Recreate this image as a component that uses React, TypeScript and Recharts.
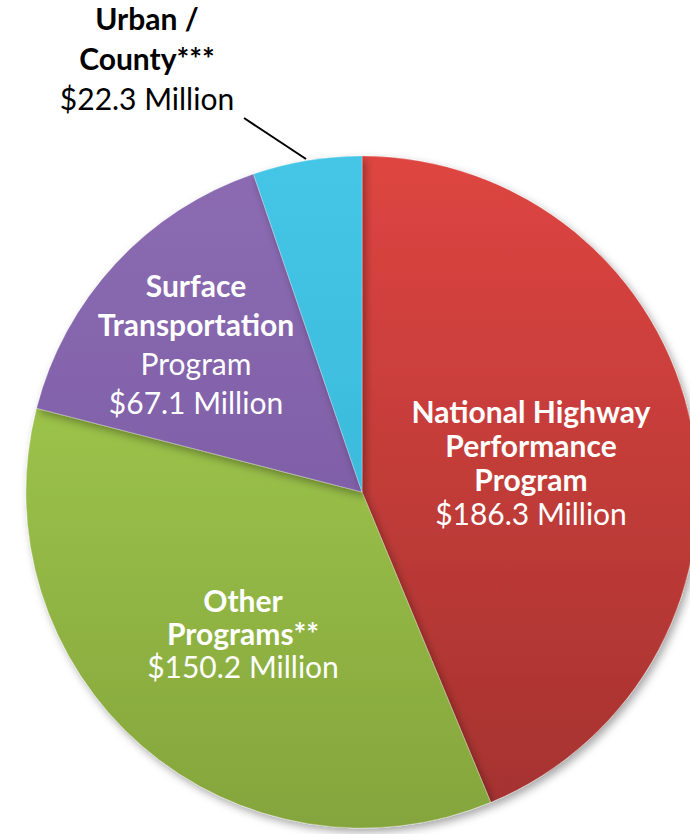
import React from "react";
import { PieChart, Pie, Cell } from "recharts";

const categories = [
  "National Highway Performance Program",
  "Other Programs**",
  "Surface Transportation Program",
  "Urban / County***",
];
const values = [186.3, 150.2, 67.1, 22.3];
const boldLines = [
  ["National Highway", "Performance", "Program"],
  ["Other", "Programs**"],
  ["Surface", "Transportation"],
  ["Urban /", "County***"],
];
const regularLines = [
  ["$186.3 Million"],
  ["$150.2 Million"],
  ["Program", "$67.1 Million"],
  ["$22.3 Million"],
];

const data = categories.map((name, i) => ({ name, value: values[i] }));

const gradients = [
  { id: "gRed", top: "#de4541", bottom: "#a3322f" },
  { id: "gGreen", top: "#aad453", bottom: "#84a53c" },
  { id: "gPurple", top: "#8c6cb3", bottom: "#73549c" },
  { id: "gBlue", top: "#45c6e6", bottom: "#32b0d2" },
];

// label layout: first-baseline offset from pie centre, line spacing, colour
const labelLayout = [
  { dx: 169, dy: -69, lh: 34, color: "#ffffff" },
  { dx: -119, dy: 120, lh: 33, color: "#ffffff" },
  { dx: -166, dy: -195, lh: 39, color: "#ffffff" },
  { dx: -215, dy: -462, lh: 40, color: "#000000" },
];

const FONT = "Lato, 'Open Sans', sans-serif";

const renderLabel = (props: any) => {
  const { cx, cy, index } = props;
  const L = labelLayout[index];
  const x = cx + L.dx;
  const y0 = cy + L.dy;
  const lines = [
    ...boldLines[index].map((t) => ({ t, b: true })),
    ...regularLines[index].map((t) => ({ t, b: false })),
  ];
  return (
    <g key={`lab-${index}`}>
      {index === 3 && (
        <line x1={cx - 118} y1={cy - 374} x2={cx - 56} y2={cy - 333} stroke="#000" strokeWidth={2} />
      )}
      {lines.map((ln, k) => (
        <text
          key={k}
          x={x}
          y={y0 + k * L.lh}
          textAnchor="middle"
          fill={L.color}
          fontFamily={FONT}
          fontSize={30}
          fontWeight={ln.b ? 700 : 400}
        >
          {ln.t}
        </text>
      ))}
    </g>
  );
};

export default function App() {
  return (
    <div style={{ position: "absolute", left: 0, top: 0, width: 690, height: 834, background: "#fff", overflow: "hidden" }}>
      <PieChart width={690} height={834} margin={{ top: 0, right: 0, bottom: 0, left: 0 }}>
        <defs>
          {gradients.map((g) => (
            <linearGradient key={g.id} id={g.id} x1="0" y1="155" x2="0" y2="828" gradientUnits="userSpaceOnUse">
              <stop offset="0%" stopColor={g.top} />
              <stop offset="100%" stopColor={g.bottom} />
            </linearGradient>
          ))}
          <filter id="shadow" x="-10%" y="-10%" width="120%" height="120%">
            <feDropShadow dx="3" dy="4" stdDeviation="4" floodColor="#000" floodOpacity="0.35" />
          </filter>
        </defs>
        <Pie
          data={data}
          dataKey="value"
          nameKey="name"
          cx={362}
          cy={492}
          outerRadius={336}
          startAngle={90}
          endAngle={-270}
          stroke="rgba(255,255,255,0.25)"
          strokeWidth={1}
          label={renderLabel}
          labelLine={false}
          isAnimationActive={false}
          style={{ filter: "url(#shadow)" }}
        >
          {data.map((d, i) => (
            <Cell key={d.name} fill={`url(#${gradients[i].id})`} />
          ))}
        </Pie>
      </PieChart>
    </div>
  );
}
